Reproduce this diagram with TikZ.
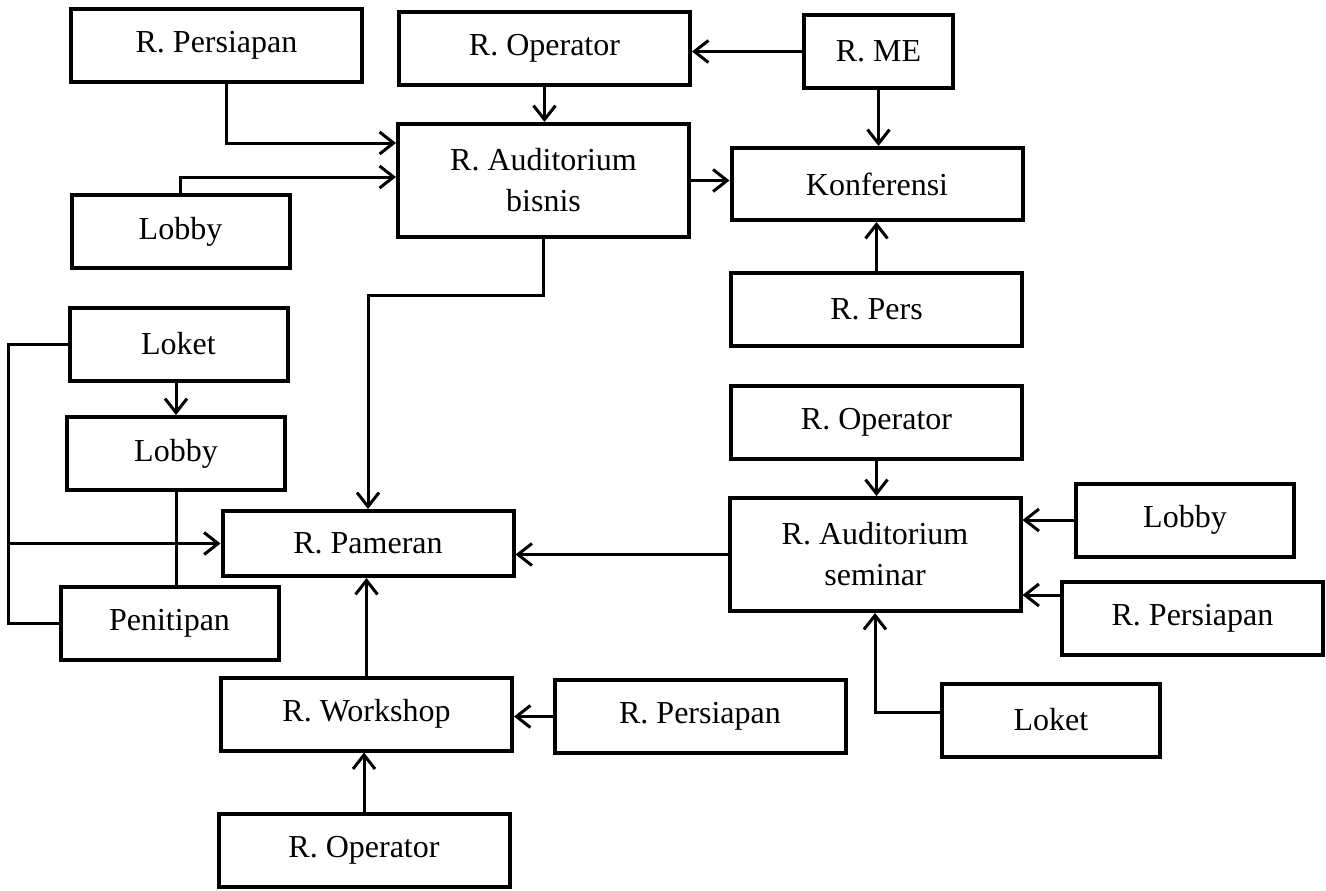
\documentclass[tikz,border=0pt]{standalone}
\usepackage{fontspec}
\setmainfont{Liberation Serif}
\usetikzlibrary{arrows.meta}

\begin{document}
\begin{tikzpicture}[x=0.5pt,y=-0.5pt,
  room/.style={draw,line width=2pt,inner sep=0pt,align=center,
    font=\fontsize{16}{20.5}\selectfont,minimum height=36.5pt},
  wide/.style={room,minimum width=145.5pt},
  small/.style={room,minimum width=109pt},
  tall/.style={minimum height=56.5pt},
  line/.style={line width=1.5pt},
  arr/.style={line,-{Straight Barb[length=7pt,width=11pt]}}]
\useasboundingbox (0,0) rectangle (1326,890);

% rooms
\node[wide] (persA) at (216.5,45.5) {R. Persiapan};
\node[wide] (opA) at (544.5,48.5) {R. Operator};
\node[room,minimum width=74.5pt] (me) at (878.5,51.5) {R. ME};
\node[wide,tall] (audB) at (543.5,180.5) {R. Auditorium\\bisnis};
\node[wide,minimum height=36pt] (konf) at (877,184) {Konferensi};
\node[small] (lobbyA) at (180.5,231.5) {Lobby};
\node[wide] (pers) at (876.5,309.5) {R. Pers};
\node[small] (loketA) at (178.5,344) {Loket};
\node[small] (lobbyB) at (176,453.5) {Lobby};
\node[wide] (opB) at (876.5,422.5) {R. Operator};
\node[wide,minimum height=32.5pt] (pameran) at (368,543.5) {R. Pameran};
\node[wide,tall] (audS) at (875,554.5) {R. Auditorium\\seminar};
\node[small] (lobbyC) at (1185,520) {Lobby};
\node[small] (penitipan) at (169.5,623) {Penitipan};
\node[room,minimum width=130.5pt] (persC) at (1192.5,618.5) {R. Persiapan};
\node[wide] (workshop) at (366.5,714) {R. Workshop};
\node[wide] (persB) at (700,716.5) {R. Persiapan};
\node[small] (loketB) at (1051,720) {Loket};
\node[wide] (opC) at (364,850.5) {R. Operator};

% links
\draw[arr] (me.west) -- (me.west -| opA.east);
\draw[arr] (me.south) -- (me.south |- konf.north);
\draw[arr] (opA.south) -- (opA.south |- audB.north);
\draw[arr] ([xshift=5pt]persA.south) |- ([yshift=18.75pt]audB.west);
\draw[arr] (lobbyA.north) |- ([yshift=1.75pt]audB.west);
\draw[arr] (audB.east) -- (audB.east -| konf.west);
\draw[arr] (pers.north) -- (pers.north |- konf.south);
\draw[arr] (audB.south) -- ++(0,56) -| (pameran.north);
\draw[arr] (lobbyB.north |- loketA.south) -- (lobbyB.north);
\draw[line] (lobbyB.south) -- (lobbyB.south |- penitipan.north);
\draw[line] (loketA.west) -- ++(-59,0) coordinate (spine) |- (penitipan.west);
\draw[arr] (spine |- pameran.west) -- (pameran.west);
\draw[arr] (audS.west) -- (audS.west -| pameran.east);
\draw[arr] (opB.south) -- (opB.south |- audS.north);
\draw[arr] (lobbyC.west) -- (lobbyC.west -| audS.east);
\draw[arr] ([yshift=11.75pt]persC.west) -- ([yshift=11.75pt]persC.west -| audS.east);
\draw[arr] ([yshift=4pt]loketB.west) -| (audS.south);
\draw[arr] (workshop.north) -- (workshop.north |- pameran.south);
\draw[arr] (persB.west) -- (persB.west -| workshop.east);
\draw[arr] (opC.north) -- (opC.north |- workshop.south);
\end{tikzpicture}
\end{document}
